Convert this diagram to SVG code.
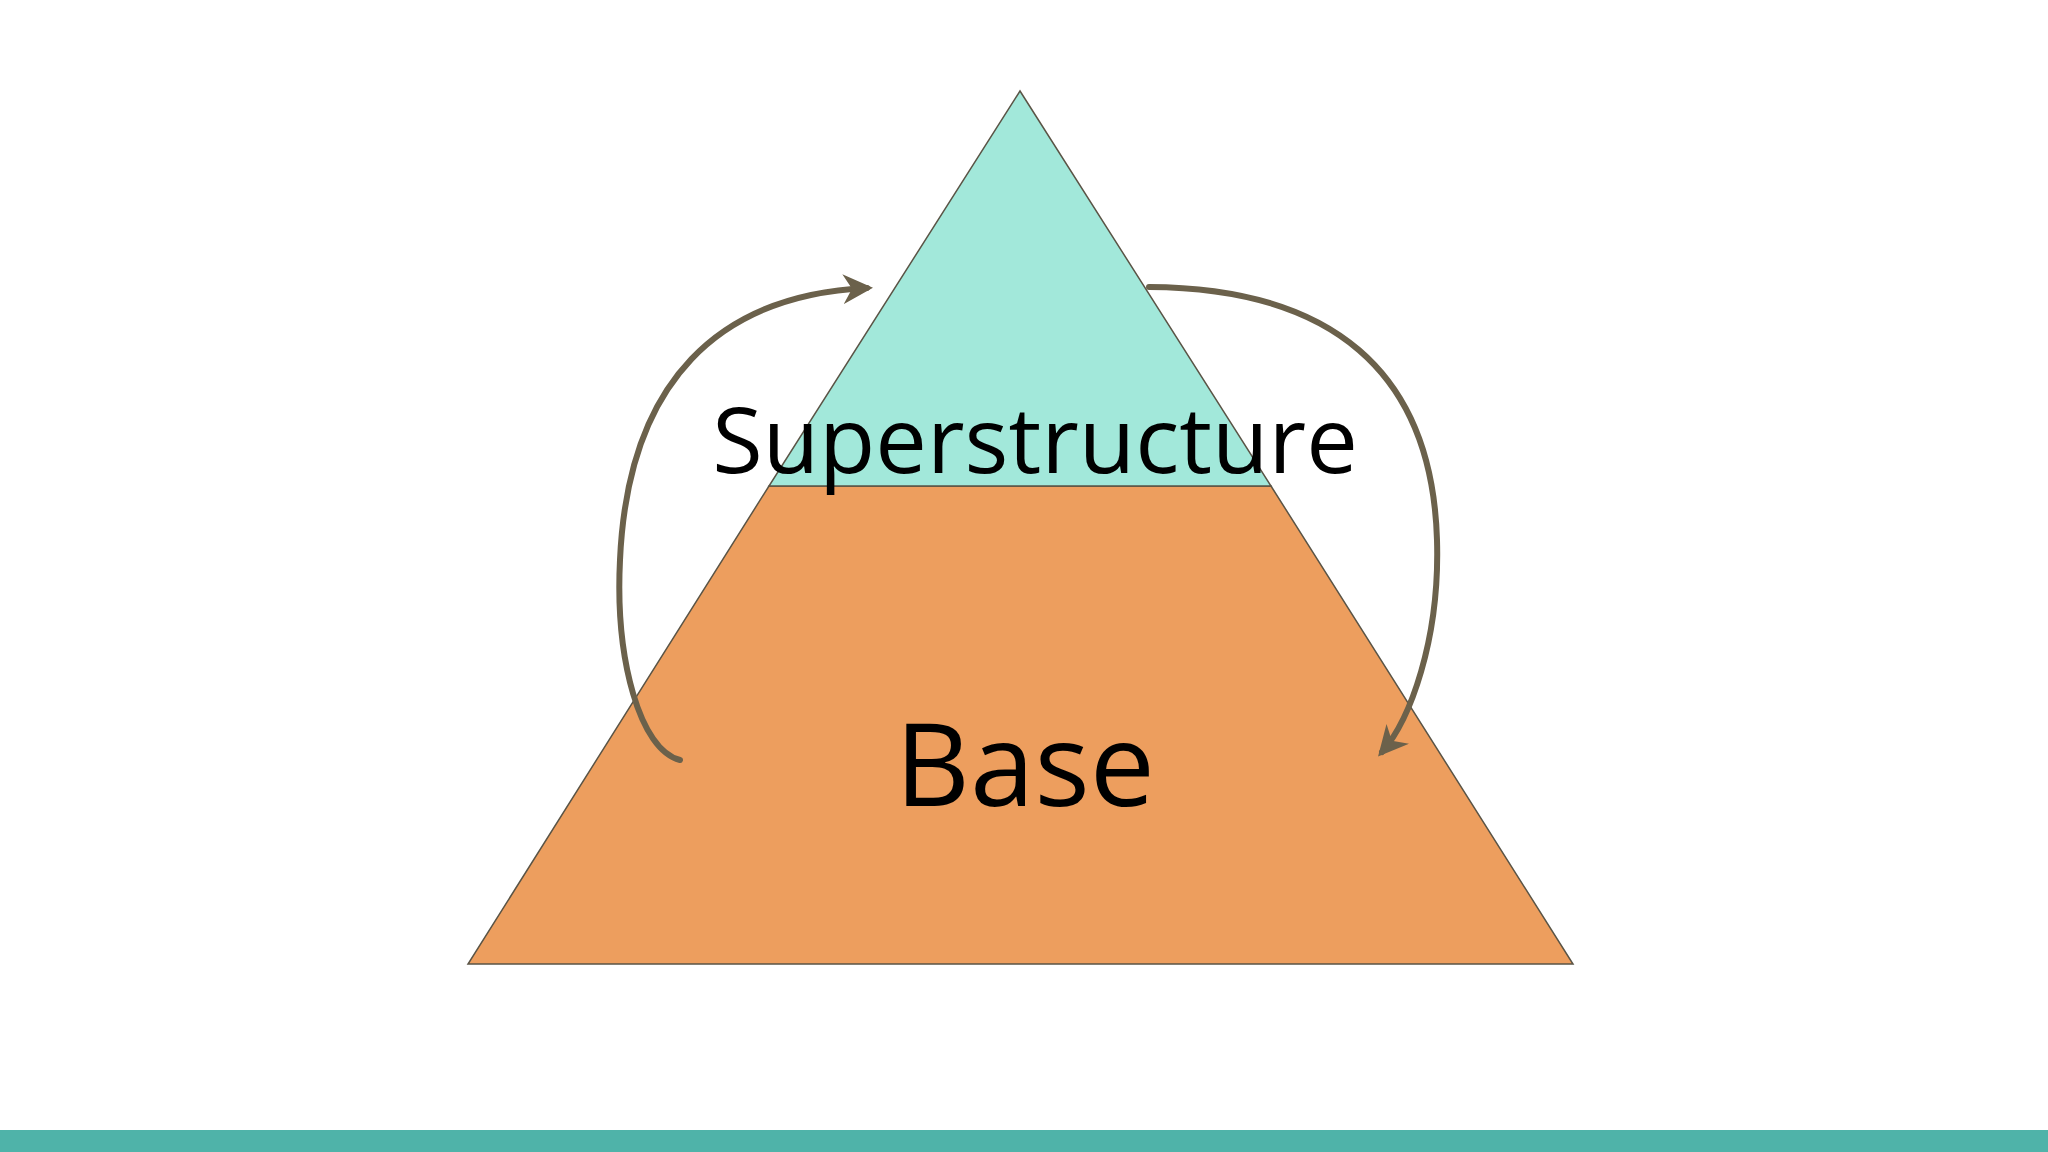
<svg xmlns="http://www.w3.org/2000/svg" width="2048" height="1152" viewBox="0 0 2048 1152">
<style>
.tri{stroke:#5a5446;stroke-width:1.5}
.lbl{font-family:"Open Sans","Noto Sans",sans-serif;fill:#000;text-anchor:middle}
.arc{fill:none;stroke:#6b614b;stroke-width:6;stroke-linecap:round}
</style>
<defs>
<marker id="ah" viewBox="0 0 10 10" refX="8" refY="5" markerWidth="5" markerHeight="5" orient="auto" markerUnits="strokeWidth">
<path d="M0,0 L10,5 L0,10 L3,5 Z" fill="#6b614b"/>
</marker>
</defs>
<rect width="2048" height="1152" fill="#fff"/>
<g id="base"><polygon class="tri" points="769,486 1271,486 1573,964 468,964" fill="#ed9e5e"/>
<text class="lbl" x="1025" y="806" font-size="116">Base</text></g>
<g id="superstructure"><polygon class="tri" points="1020,91 1271,486 769,486" fill="#a2e8da"/>
<text class="lbl" x="1035" y="473" font-size="92">Superstructure</text></g>
<g id="connectors">
<path class="arc" d="M680,760 C640,750 615,660 620,560 C628,380 720,295 867,288" marker-end="url(#ah)"/>
<path class="arc" d="M1149,287 C1330,288 1432,370 1437,540 C1440,640 1410,720 1382,752" marker-end="url(#ah)"/>
</g>
<rect x="0" y="1130" width="2048" height="22" fill="#4fb3a9"/>
</svg>
